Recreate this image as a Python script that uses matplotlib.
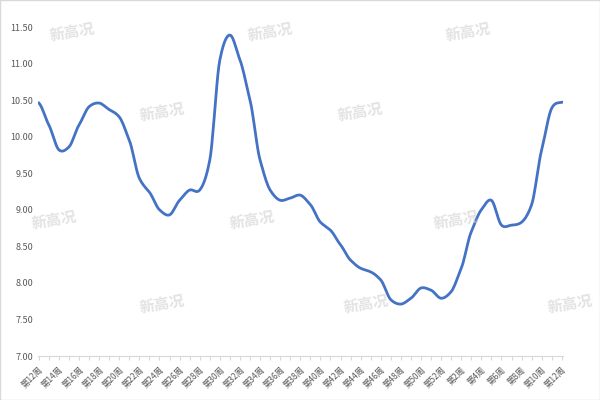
import matplotlib
matplotlib.use("Agg")
import matplotlib.pyplot as plt
import numpy as np

plt.rcParams['font.family'] = ['Noto Sans CJK SC', 'DejaVu Sans']

weeks = list(range(12, 53)) + list(range(1, 13))
labels = [f"第{w}周" for w in weeks]
values = [10.46, 10.16, 9.82, 9.86, 10.16, 10.41, 10.46, 10.37, 10.27, 9.95,
          9.43, 9.24, 9.00, 8.93, 9.13, 9.27, 9.27, 9.68, 11.05, 11.39,
          11.05, 10.50, 9.68, 9.27, 9.13, 9.16, 9.20, 9.07, 8.83, 8.72,
          8.52, 8.31, 8.20, 8.15, 8.04, 7.77, 7.71, 7.79, 7.93, 7.90,
          7.79, 7.88, 8.20, 8.70, 9.00, 9.13, 8.79, 8.79, 8.83, 9.07,
          9.82, 10.39, 10.47]

def catmull(y, n=10):
    y = np.asarray(y, float)
    p = np.concatenate([[y[0]], y, [y[-1]]])
    xs, ys = [], []
    for i in range(len(y) - 1):
        p0, p1, p2, p3 = p[i], p[i+1], p[i+2], p[i+3]
        t = np.linspace(0, 1, n, endpoint=False)
        m1 = (p2 - p0) / 2 * 0.8
        m2 = (p3 - p1) / 2 * 0.8
        h00 = 2*t**3 - 3*t**2 + 1; h10 = t**3 - 2*t**2 + t
        h01 = -2*t**3 + 3*t**2; h11 = t**3 - t**2
        ys.extend(h00*p1 + h10*m1 + h01*p2 + h11*m2)
        xs.extend(i + t)
    xs.append(len(y) - 1); ys.append(y[-1])
    return np.array(xs), np.array(ys)

fig = plt.figure(figsize=(6, 4), dpi=100)
ax = fig.add_axes([0.063, 0.11, 0.875, 0.8225])
sx, sy = catmull(values)
ax.plot(sx, sy, color='#4472C4', lw=2)
ax.set_ylim(7, 11.5)
ax.set_yticks(np.arange(7, 11.51, 0.5))
ax.set_yticklabels([f"{v:.2f}" for v in np.arange(7, 11.51, 0.5)], fontsize=6.5, color='#595959')
ax.set_xlim(-0.1, len(values) - 0.9)
ax.set_xticks(range(len(values)))
ax.set_xticklabels([l if i % 2 == 0 else '' for i, l in enumerate(labels)],
                   rotation=45, ha='right', fontsize=6, color='#595959', rotation_mode='anchor')
ax.tick_params(axis='y', length=0)
ax.tick_params(axis='x', length=3, color='#D9D9D9')
for s in ['top', 'right', 'left']:
    ax.spines[s].set_visible(False)
ax.spines['bottom'].set_color('#D9D9D9')

for (x, y) in [(0.12, 0.92), (0.45, 0.92), (0.78, 0.92), (0.27, 0.72), (0.6, 0.72),
               (0.09, 0.45), (0.42, 0.45), (0.76, 0.45), (0.27, 0.24), (0.61, 0.24), (0.95, 0.24)]:
    fig.text(x, y, "新高况", fontsize=11, color='#D0D0D0', alpha=0.6, ha='center', va='center',
             rotation=10, fontweight='bold')

fig.patches.append(plt.Rectangle((0, 0), 1, 1, transform=fig.transFigure, fill=False,
                                 edgecolor='#D9D9D9', lw=1))
fig.savefig("out.png")
